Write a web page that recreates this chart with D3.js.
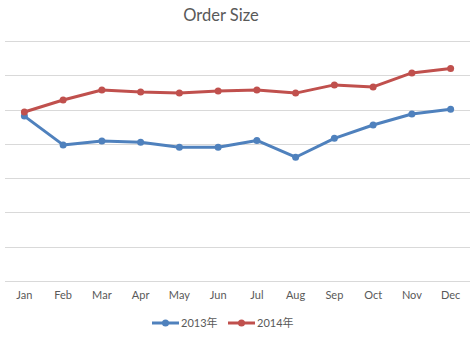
<!DOCTYPE html>
<html>
<head>
<meta charset="utf-8">
<script src="https://cdn.jsdelivr.net/npm/d3@7"></script>
<style>
  html, body { margin: 0; padding: 0; background: #fff; }
  svg { display: block; }
  text { font-family: Lato, "Open Sans", "Liberation Sans", sans-serif; fill: #595959; }
</style>
</head>
<body>
<svg id="chart" width="475" height="337"></svg>
<script>
// Monthly average order size, two years
const months = ["Jan","Feb","Mar","Apr","May","Jun","Jul","Aug","Sep","Oct","Nov","Dec"];
const series2013 = [4.81, 3.97, 4.08, 4.05, 3.90, 3.90, 4.10, 3.61, 4.16, 4.55, 4.87, 5.01];
const series2014 = [4.93, 5.28, 5.57, 5.51, 5.48, 5.54, 5.57, 5.48, 5.72, 5.66, 6.07, 6.20];
const seriesNames = ["2013年", "2014年"];
const gridTicks = [0, 1, 2, 3, 4, 5, 6, 7];

const colors = ["#4F81BD", "#C0504D"];
const svg = d3.select("#chart");

const x = d3.scaleBand().domain(months).range([5, 470]);
const y = d3.scaleLinear().domain([0, 7]).range([281, 41]);

// horizontal gridlines
svg.append("g")
  .selectAll("line")
  .data(gridTicks)
  .join("line")
  .attr("x1", 5).attr("x2", 470)
  .attr("y1", d => Math.round(y(d)) + 0.5)
  .attr("y2", d => Math.round(y(d)) + 0.5)
  .attr("stroke", "#d9d9d9")
  .attr("stroke-width", 1);

// month labels along the bottom
const xAxis = d3.axisBottom(x).tickSize(0).tickPadding(0);
const gx = svg.append("g").attr("transform", "translate(0,291)").call(xAxis);
gx.select(".domain").remove();
gx.selectAll("text")
  .attr("dy", "0.71em")
  .style("font-size", "11px")
  .style("fill", "#595959")
  .style("font-family", "Lato, 'Open Sans', sans-serif");

// title
svg.append("text")
  .attr("x", 221).attr("y", 21)
  .attr("text-anchor", "middle")
  .style("font-size", "16.5px")
  .text("Order Size");

// lines and markers
const line = d3.line()
  .x((d, i) => x(months[i]) + x.bandwidth() / 2)
  .y(d => y(d));

[series2013, series2014].forEach((vals, k) => {
  const g = svg.append("g");
  g.append("path")
    .datum(vals)
    .attr("fill", "none")
    .attr("stroke", colors[k])
    .attr("stroke-width", 3)
    .attr("stroke-linejoin", "round")
    .attr("stroke-linecap", "round")
    .attr("d", line);
  g.selectAll("circle")
    .data(vals)
    .join("circle")
    .attr("cx", (d, i) => x(months[i]) + x.bandwidth() / 2)
    .attr("cy", d => y(d))
    .attr("r", 3.5)
    .attr("fill", colors[k]);
});

// legend
const legendItems = [
  { name: seriesNames[0], color: colors[0], x: 152 },
  { name: seriesNames[1], color: colors[1], x: 228 }
];
const lg = svg.append("g").selectAll("g").data(legendItems).join("g")
  .attr("transform", d => `translate(${d.x},323)`);
lg.append("line")
  .attr("x1", 0).attr("x2", 27).attr("y1", 0).attr("y2", 0)
  .attr("stroke", d => d.color).attr("stroke-width", 3);
lg.append("circle")
  .attr("cx", 13.5).attr("cy", 0).attr("r", 3.5)
  .attr("fill", d => d.color);
lg.append("text")
  .attr("x", 29).attr("y", 0).attr("dy", "0.35em")
  .style("font-size", "11px")
  .style("font-family", "Lato, 'Noto Sans CJK SC', sans-serif")
  .text(d => d.name);
</script>
</body>
</html>
